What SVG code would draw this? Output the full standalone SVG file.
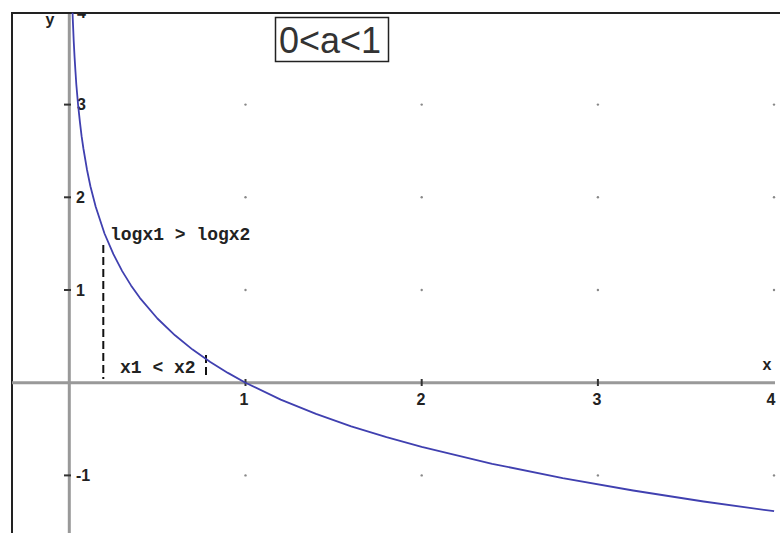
<svg xmlns="http://www.w3.org/2000/svg" width="780" height="533" viewBox="0 0 780 533">
<defs>
<style>
.axis{stroke:#999;stroke-width:3;fill:none}
.tick{stroke:#333;stroke-width:2}
.lbl{font-family:"Liberation Sans",Arial,sans-serif;font-weight:bold;font-size:16px;fill:#222}
.mono{font-family:"Liberation Mono","Courier New",monospace;font-weight:bold;font-size:18px;fill:#222}
.dash{stroke:#111;stroke-width:2;stroke-dasharray:8 4;fill:none}
.dot{fill:#888}
</style>
<clipPath id="plot"><rect x="12" y="14" width="768" height="519"/></clipPath>
</defs>
<rect width="780" height="533" fill="#fff"/>
<g id="frame" stroke="#222" stroke-width="2" fill="none">
<line x1="12" y1="13" x2="780" y2="13"/>
<line x1="12" y1="12" x2="12" y2="533"/>
</g>
<g id="grid">
<circle class="dot" cx="245.5" cy="104.6" r="1.2"/><circle class="dot" cx="421.7" cy="104.6" r="1.2"/><circle class="dot" cx="597.9" cy="104.6" r="1.2"/><circle class="dot" cx="774" cy="104.6" r="1.2"/>
<circle class="dot" cx="245.5" cy="197.3" r="1.2"/><circle class="dot" cx="421.7" cy="197.3" r="1.2"/><circle class="dot" cx="597.9" cy="197.3" r="1.2"/><circle class="dot" cx="774" cy="197.3" r="1.2"/>
<circle class="dot" cx="245.5" cy="290" r="1.2"/><circle class="dot" cx="421.7" cy="290" r="1.2"/><circle class="dot" cx="597.9" cy="290" r="1.2"/><circle class="dot" cx="774" cy="290" r="1.2"/>
<circle class="dot" cx="245.5" cy="475.4" r="1.2"/><circle class="dot" cx="421.7" cy="475.4" r="1.2"/><circle class="dot" cx="597.9" cy="475.4" r="1.2"/><circle class="dot" cx="774" cy="475.4" r="1.2"/>
</g>
<g id="axes">
<line class="axis" x1="12" y1="382.7" x2="775" y2="382.7"/>
<line class="axis" x1="69.3" y1="14" x2="69.3" y2="533"/>
</g>
<g id="ticks">
<line class="tick" x1="64" y1="104.6" x2="71" y2="104.6"/>
<line class="tick" x1="64" y1="197.3" x2="71" y2="197.3"/>
<line class="tick" x1="64" y1="290" x2="71" y2="290"/>
<line class="tick" x1="64" y1="475.4" x2="71" y2="475.4"/>
<line class="tick" x1="245.5" y1="379" x2="245.5" y2="386"/>
<line class="tick" x1="421.7" y1="379" x2="421.7" y2="386"/>
<line class="tick" x1="597.9" y1="379" x2="597.9" y2="386"/>
</g>
<g id="labels">
<text class="lbl" x="50" y="25" text-anchor="middle">y</text>
<text class="lbl" x="767" y="370" text-anchor="middle">x</text>
<g clip-path="url(#plot)"><text class="lbl" x="77" y="17.5">4</text></g>
<text class="lbl" x="77" y="110">3</text>
<text class="lbl" x="76" y="203">2</text>
<text class="lbl" x="76" y="296">1</text>
<text class="lbl" x="76" y="481">-1</text>
<text class="lbl" x="244" y="405" text-anchor="middle">1</text>
<text class="lbl" x="421" y="405" text-anchor="middle">2</text>
<text class="lbl" x="597" y="405" text-anchor="middle">3</text>
<text class="lbl" x="771" y="405" text-anchor="middle">4</text>
</g>
<g id="connectors">
<line class="dash" x1="103.3" y1="245" x2="103.3" y2="379"/>
<line class="dash" x1="206" y1="355" x2="206" y2="379"/>
</g>
<g id="curve">
<polyline fill="none" stroke="#4040b0" stroke-width="1.8" stroke-linejoin="round" points="72.56,12.8 72.82,20.1 73.2,28.9 73.7,40.7 74.6,57.6 75.5,72 76.3,84.3 78.1,105 79.9,121.9 81.6,136.2 83.4,148.5 86.9,169.2 90.4,186.2 95.7,206.8 104.5,233.5 113.4,254.2 122.2,271.1 131,285.4 139.8,297.8 157.4,318.5 175,335.3 192.6,349.6 210.3,362 227.9,372.9 245.5,382.7 280.7,399.6 316,413.9 351.2,426.3 386.5,437.2 421.7,446.9 492.2,463.8 562.7,478.2 633.1,490.5 703.6,501.5 774.1,511.2"/>
</g>
<g id="note-a">
<rect x="275.5" y="17.5" width="113" height="44" fill="#fff" stroke="#222" stroke-width="1.5"/>
<text x="279" y="53" font-family="Liberation Sans,Arial,sans-serif" font-size="36" fill="#333">0&lt;a&lt;1</text>
</g>
<g id="note-log"><text class="mono" x="110" y="240">logx1 &gt; logx2</text></g>
<g id="note-x"><text class="mono" x="120" y="373">x1 &lt; x2</text></g>
</svg>
